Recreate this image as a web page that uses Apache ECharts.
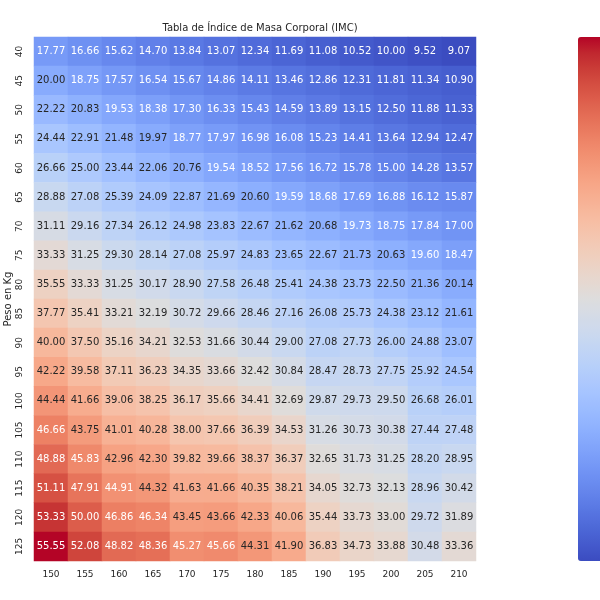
<!DOCTYPE html>
<html>
<head>
<meta charset="utf-8">
<script src="https://cdn.jsdelivr.net/npm/echarts@6/dist/echarts.min.js"></script>
<style>html,body{margin:0;padding:0;background:#fff;}#c{width:600px;height:600px;}</style>
</head>
<body>
<div id="c"></div>
<script>
const heights = ['150','155','160','165','170','175','180','185','190','195','200','205','210'];
const weights = ['40','45','50','55','60','65','70','75','80','85','90','95','100','105','110','115','120','125'];
const w40  = [17.77,16.66,15.62,14.70,13.84,13.07,12.34,11.69,11.08,10.52,10.00,9.52,9.07];
const w45  = [20.00,18.75,17.57,16.54,15.67,14.86,14.11,13.46,12.86,12.31,11.81,11.34,10.90];
const w50  = [22.22,20.83,19.53,18.38,17.30,16.33,15.43,14.59,13.89,13.15,12.50,11.88,11.33];
const w55  = [24.44,22.91,21.48,19.97,18.77,17.97,16.98,16.08,15.23,14.41,13.64,12.94,12.47];
const w60  = [26.66,25.00,23.44,22.06,20.76,19.54,18.52,17.56,16.72,15.78,15.00,14.28,13.57];
const w65  = [28.88,27.08,25.39,24.09,22.87,21.69,20.60,19.59,18.68,17.69,16.88,16.12,15.87];
const w70  = [31.11,29.16,27.34,26.12,24.98,23.83,22.67,21.62,20.68,19.73,18.75,17.84,17.00];
const w75  = [33.33,31.25,29.30,28.14,27.08,25.97,24.83,23.65,22.67,21.73,20.63,19.60,18.47];
const w80  = [35.55,33.33,31.25,30.17,28.90,27.58,26.48,25.41,24.38,23.73,22.50,21.36,20.14];
const w85  = [37.77,35.41,33.21,32.19,30.72,29.66,28.46,27.16,26.08,25.73,24.38,23.12,21.61];
const w90  = [40.00,37.50,35.16,34.21,32.53,31.66,30.44,29.00,27.08,27.73,26.00,24.88,23.07];
const w95  = [42.22,39.58,37.11,36.23,34.35,33.66,32.42,30.84,28.47,28.73,27.75,25.92,24.54];
const w100 = [44.44,41.66,39.06,38.25,36.17,35.66,34.41,32.69,29.87,29.73,29.50,26.68,26.01];
const w105 = [46.66,43.75,41.01,40.28,38.00,37.66,36.39,34.53,31.26,30.73,30.38,27.44,27.48];
const w110 = [48.88,45.83,42.96,42.30,39.82,39.66,38.37,36.37,32.65,31.73,31.25,28.20,28.95];
const w115 = [51.11,47.91,44.91,44.32,41.63,41.66,40.35,38.21,34.05,32.73,32.13,28.96,30.42];
const w120 = [53.33,50.00,46.86,46.34,43.45,43.66,42.33,40.06,35.44,33.73,33.00,29.72,31.89];
const w125 = [55.55,52.08,48.82,48.36,45.27,45.66,44.31,41.90,36.83,34.73,33.88,30.48,33.36];
const rows = [w40,w45,w50,w55,w60,w65,w70,w75,w80,w85,w90,w95,w100,w105,w110,w115,w120,w125];

// coolwarm colormap stops
const CW = [
[0.2298057,0.298717966,0.753683153],[0.26623388,0.353094838,0.801466763],[0.30386891,0.406535296,0.84495867],
[0.342804478,0.458757618,0.883725899],[0.38301334,0.50941904,0.917387822],[0.424369608,0.558148092,0.945619588],
[0.46666708,0.604562568,0.968154911],[0.509635204,0.648280772,0.98478814],[0.552953156,0.688929332,0.995375608],
[0.596262162,0.726149107,0.999836203],[0.639176211,0.759599947,0.998151185],[0.681291281,0.788964712,0.990363227],
[0.722193294,0.813952739,0.976574709],[0.761464949,0.834302879,0.956945269],[0.798691636,0.849786142,0.931688648],
[0.833466556,0.860207984,0.901068838],[0.865395197,0.86541021,0.865395561],[0.897787179,0.848937047,0.820880546],
[0.924127593,0.827384882,0.774508472],[0.944468518,0.800927443,0.726736146],[0.958852946,0.769767752,0.678007945],
[0.96732803,0.734132809,0.628751763],[0.969954137,0.694266682,0.579375448],[0.966811177,0.650421156,0.530263762],
[0.958003065,0.602842431,0.481775914],[0.943660866,0.551750968,0.434243684],[0.923944917,0.49730856,0.387970225],
[0.89904617,0.439559467,0.343229596],[0.869186849,0.378313092,0.300267182],[0.834620542,0.312874446,0.259301199],
[0.795631745,0.24128379,0.220525627],[0.752534934,0.157246067,0.184115123],[0.705673158,0.01555616,0.150232812]
];
const cwHex = CW.map(c => 'rgb(' + c.map(v => Math.round(v*255)).join(',') + ')');
function cwAt(t){
  t = Math.max(0, Math.min(1, t));
  const p = t*(CW.length-1), i = Math.min(CW.length-2, Math.floor(p)), f = p - i;
  return [0,1,2].map(k => CW[i][k]*(1-f) + CW[i+1][k]*f);
}
function lum(c){
  const l = c.map(v => v <= 0.03928 ? v/12.92 : Math.pow((v+0.055)/1.055, 2.4));
  return 0.2126*l[0] + 0.7152*l[1] + 0.0722*l[2];
}

let vmin = Infinity, vmax = -Infinity;
rows.forEach(r => r.forEach(v => { vmin = Math.min(vmin, v); vmax = Math.max(vmax, v); }));

const data = [];
rows.forEach((r, yi) => r.forEach((v, xi) => {
  const c = cwAt((v - vmin)/(vmax - vmin));
  data.push({ value: [xi, yi, v], label: { color: lum(c) > 0.408 ? '#262626' : '#ffffff' } });
}));

const FONT = 'DejaVu Sans';
const chart = echarts.init(document.getElementById('c'), null, { renderer: 'canvas' });
chart.setOption({
  animation: false,
  backgroundColor: '#fff',
  title: {
    text: 'Tabla de Índice de Masa Corporal (IMC)',
    left: 255, top: 18, textAlign: 'center',
    textStyle: { fontFamily: FONT, fontSize: 10, fontWeight: 'normal', color: '#262626' }
  },
  grid: { left: 34, right: 124, top: 37, bottom: 39, containLabel: false, outerBoundsMode: 'none' },
  xAxis: {
    type: 'category', data: heights,
    axisLine: { show: false }, axisTick: { show: false }, splitLine: { show: false },
    axisLabel: { fontFamily: FONT, fontSize: 9, color: '#262626', margin: 9 }
  },
  yAxis: {
    type: 'category', data: weights, inverse: true,
    name: 'Peso en Kg', nameLocation: 'middle', nameGap: 21, nameMoveOverlap: false,
    nameTextStyle: { fontFamily: FONT, fontSize: 10, color: '#262626' },
    axisLine: { show: false }, axisTick: { show: false }, splitLine: { show: false },
    axisLabel: { fontFamily: FONT, fontSize: 9, color: '#262626', rotate: 90, margin: 10 }
  },
  visualMap: {
    type: 'continuous', min: vmin, max: vmax, calculable: false,
    orient: 'vertical', left: 578, top: 37, itemWidth: 30, itemHeight: 524, padding: 0,
    inRange: { color: cwHex }, text: null, showLabel: false,
    dimension: 2
  },
  series: [{
    type: 'heatmap', data: data,
    label: { show: true, fontFamily: FONT, fontSize: 10, formatter: p => p.value[2].toFixed(2) },
    itemStyle: { borderWidth: 0 },
    emphasis: { disabled: true }
  }]
});
</script>
</body>
</html>
